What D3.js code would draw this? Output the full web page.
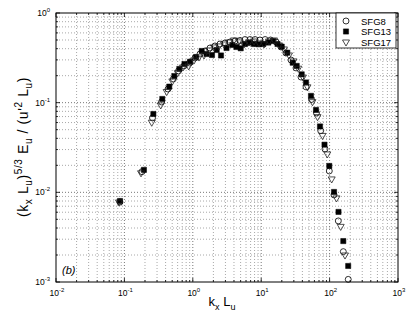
<!DOCTYPE html>
<html><head><meta charset="utf-8">
<script src="https://cdn.jsdelivr.net/npm/d3@7"></script>
<style>
body{margin:0;background:#fff;}
text{font-family:"Liberation Sans",Arial,Helvetica,sans-serif;fill:#000;}
</style></head><body>
<svg id="chart" width="409" height="316"></svg>
<script>
// ---- data ----
const seriesNames = ["SFG8", "SFG13", "SFG17"];
const sfg8X = [0.086,0.181,0.2575,0.349,0.434,0.519,0.618,0.743,0.895,1.077,1.274,1.508,1.784,2.111,2.498,2.956,3.499,4.14,4.90,5.80,6.86,8.12,9.60,11.4,13.7,16.5,19.5,23.0,27.3,32.3,38.2,45.2,54.4,64.3,74.1,85.6,99.0,116,134.1,158.6,187.3];
const sfg8Y = [0.0078,0.0170,0.0675,0.1018,0.142,0.184,0.226,0.257,0.277,0.315,0.349,0.377,0.407,0.429,0.451,0.463,0.475,0.487,0.494,0.506,0.506,0.506,0.500,0.506,0.500,0.475,0.418,0.358,0.299,0.244,0.193,0.150,0.1086,0.0768,0.0487,0.0305,0.0173,0.00936,0.0048,0.00218,0.00107];
const sfg13X = [0.0862,0.193,0.265,0.358,0.453,0.537,0.635,0.756,0.910,1.114,1.349,1.586,1.909,2.236,2.584,3.110,3.780,4.353,5.016,5.798,6.699,7.847,9.194,10.73,12.70,14.88,17.31,19.94,24.07,28.88,33.04,39.09,45.19,53.46,63.26,72.37,84.22,99.0,116.0,134.9,158.6,187.0];
const sfg13Y = [0.0080,0.0178,0.0748,0.110,0.151,0.198,0.238,0.270,0.286,0.323,0.377,0.349,0.340,0.387,0.336,0.407,0.440,0.418,0.404,0.451,0.467,0.451,0.448,0.451,0.468,0.487,0.451,0.422,0.361,0.279,0.257,0.207,0.168,0.119,0.083,0.0543,0.0340,0.0197,0.0101,0.00605,0.00286,0.00151];
const sfg17X = [0.0834,0.175,0.251,0.340,0.415,0.502,0.602,0.719,0.871,1.041,1.232,1.458,1.725,2.041,2.415,2.858,3.382,4.002,4.736,5.605,6.63,7.85,9.29,10.99,13.0,15.39,18.2,21.5,25.5,29.7,34.9,40.8,47.5,56.2,66.6,78.7,92.5,107.3,126.2,145.3,168.0];
const sfg17Y = [0.0078,0.0165,0.0605,0.0943,0.133,0.1745,0.216,0.250,0.257,0.299,0.323,0.340,0.387,0.418,0.429,0.451,0.475,0.500,0.487,0.451,0.475,0.487,0.463,0.451,0.487,0.500,0.440,0.397,0.340,0.292,0.242,0.193,0.150,0.1026,0.0698,0.0431,0.0268,0.0141,0.00866,0.00417,0.0020];
const xTickExps = [-2, -1, 0, 1, 2, 3];
const yTickExps = [-3, -2, -1, 0];
const panelLabel = "(b)";

// ---- layout ----
const svg = d3.select("#chart");
const L = 56, R = 398, T = 13, B = 282;
const x = d3.scaleLog().domain([1e-2, 1e3]).range([L, R]);
const y = d3.scaleLog().domain([1e-3, 1]).range([B, T]);

function minorVals(exps) {
  const out = [];
  for (let i = 0; i < exps.length - 1; i++)
    for (let m = 2; m <= 9; m++) out.push(m * Math.pow(10, exps[i]));
  return out;
}
const xMajor = xTickExps.map(e => Math.pow(10, e));
const yMajor = yTickExps.map(e => Math.pow(10, e));
const xMinor = minorVals(xTickExps);
const yMinor = minorVals(yTickExps);

// ---- grid ----
const grid = svg.append("g");
grid.selectAll(".gxm").data(xMinor).join("line")
  .attr("x1", d => x(d)).attr("x2", d => x(d)).attr("y1", T).attr("y2", B)
  .attr("stroke", "#a8a8a8").attr("stroke-width", 1).attr("stroke-dasharray", "1,2");
grid.selectAll(".gym").data(yMinor).join("line")
  .attr("y1", d => y(d)).attr("y2", d => y(d)).attr("x1", L).attr("x2", R)
  .attr("stroke", "#a8a8a8").attr("stroke-width", 1).attr("stroke-dasharray", "1,2");
grid.selectAll(".gxM").data(xMajor.slice(1, -1)).join("line")
  .attr("x1", d => x(d)).attr("x2", d => x(d)).attr("y1", T).attr("y2", B)
  .attr("stroke", "#777").attr("stroke-width", 1).attr("stroke-dasharray", "1,2");
grid.selectAll(".gyM").data(yMajor.slice(1, -1)).join("line")
  .attr("y1", d => y(d)).attr("y2", d => y(d)).attr("x1", L).attr("x2", R)
  .attr("stroke", "#777").attr("stroke-width", 1).attr("stroke-dasharray", "1,2");

// ---- ticks (inside, all four sides) ----
const tk = svg.append("g").attr("stroke", "#000").attr("stroke-width", 0.8);
function xt(vals, len) {
  vals.forEach(v => {
    tk.append("line").attr("x1", x(v)).attr("x2", x(v)).attr("y1", B).attr("y2", B - len);
    tk.append("line").attr("x1", x(v)).attr("x2", x(v)).attr("y1", T).attr("y2", T + len);
  });
}
function yt(vals, len) {
  vals.forEach(v => {
    tk.append("line").attr("y1", y(v)).attr("y2", y(v)).attr("x1", L).attr("x2", L + len);
    tk.append("line").attr("y1", y(v)).attr("y2", y(v)).attr("x1", R).attr("x2", R - len);
  });
}
xt(xMajor, 4); xt(xMinor, 2); yt(yMajor, 4); yt(yMinor, 2);

// ---- frame ----
svg.append("rect").attr("x", L).attr("y", T).attr("width", R - L).attr("height", B - T)
  .attr("fill", "none").attr("stroke", "#000").attr("stroke-width", 1);

// ---- tick labels ----
xTickExps.forEach(e => {
  const t = svg.append("text").attr("x", x(Math.pow(10, e)) + 1).attr("y", 296)
    .attr("text-anchor", "middle").attr("font-size", 8.5).attr("fill", "#222");
  t.append("tspan").text("10");
  t.append("tspan").attr("font-size", 6).attr("dy", -4).text(e);
});
yTickExps.forEach(e => {
  const t = svg.append("text").attr("x", 50).attr("y", y(Math.pow(10, e)) + 3)
    .attr("text-anchor", "end").attr("font-size", 8.5).attr("fill", "#222");
  t.append("tspan").text("10");
  t.append("tspan").attr("font-size", 6).attr("dy", -4).text(e);
});

// ---- axis labels ----
const xl = svg.append("text").attr("x", 222).attr("y", 306).attr("text-anchor", "middle").attr("font-size", 13);
xl.append("tspan").text("k");
xl.append("tspan").attr("font-size", 9).attr("dy", 3.5).text("x");
xl.append("tspan").attr("dy", -3.5).text(" L");
xl.append("tspan").attr("font-size", 9).attr("dy", 3.5).text("u");

const yl = svg.append("text").attr("transform", "translate(28,147) rotate(-90)")
  .attr("text-anchor", "middle").attr("font-size", 14).attr("letter-spacing", "0.6px");
const parts = [
  ["(k", 0, 14], ["x", 4, 10], [" L", -4, 14], ["u", 4, 10], [")", -4, 14],
  ["5/3", -6, 10], [" E", 6, 14], ["u", 4, 10], [" / (u'", -4, 14], ["2", -6, 10],
  [" L", 6, 14], ["u", 4, 10], [")", -4, 14]
];
parts.forEach(p => yl.append("tspan").attr("dy", p[1]).attr("font-size", p[2]).text(p[0]));

// panel label
svg.append("text").attr("x", 62).attr("y", 274).attr("font-size", 11)
  .attr("font-style", "italic").text(panelLabel);

// ---- markers ----
const sym = {
  SFG8: d3.symbol().type(d3.symbolCircle).size(28),
  SFG13: d3.symbol().type(d3.symbolSquare).size(27),
};
function tri(s) { // downward triangle
  const h = s * Math.sqrt(3) / 2;
  return `M${-s/2},${-h/3}L${s/2},${-h/3}L0,${2*h/3}Z`;
}
const series = [
  { name: "SFG8", xs: sfg8X, ys: sfg8Y },
  { name: "SFG13", xs: sfg13X, ys: sfg13Y },
  { name: "SFG17", xs: sfg17X, ys: sfg17Y },
];
function drawMarker(g, name) {
  if (name === "SFG8") return g.append("path").attr("d", sym.SFG8()).attr("fill", "none").attr("stroke", "#000").attr("stroke-width", 0.8);
  if (name === "SFG13") return g.append("path").attr("d", sym.SFG13()).attr("fill", "#000").attr("stroke", "#000").attr("stroke-width", 0.5);
  return g.append("path").attr("d", tri(7)).attr("fill", "none").attr("stroke", "#222").attr("stroke-width", 0.8);
}
series.forEach(s => {
  const g = svg.append("g");
  s.xs.forEach((xv, i) => {
    const m = g.append("g").attr("transform", `translate(${x(xv)},${y(s.ys[i])})`);
    drawMarker(m, s.name);
  });
});

// ---- legend ----
const lg = svg.append("g");
lg.append("rect").attr("x", 336).attr("y", 13).attr("width", 60).attr("height", 35)
  .attr("fill", "#fff").attr("stroke", "#000").attr("stroke-width", 0.8);
seriesNames.forEach((n, i) => {
  const cy = 21 + i * 10.5;
  const m = lg.append("g").attr("transform", `translate(346,${cy})`);
  drawMarker(m, n);
  lg.append("text").attr("x", 361).attr("y", cy + 3.5).attr("font-size", 9.5).text(n);
});
</script>
</body></html>
